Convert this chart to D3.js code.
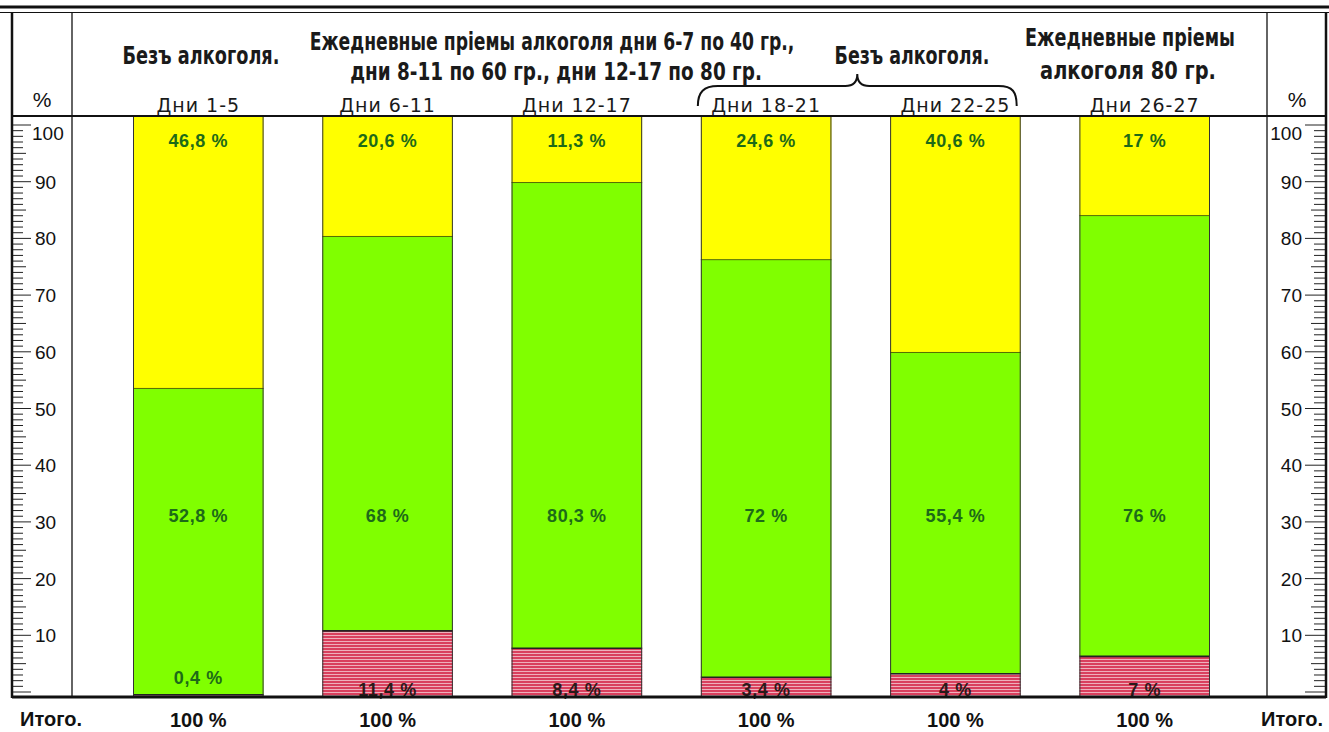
<!DOCTYPE html>
<html><head><meta charset="utf-8">
<script src="https://cdn.jsdelivr.net/npm/d3@7"></script>
<style>body{margin:0;background:#fff}svg{display:block}</style>
</head><body><svg id="c" width="1329" height="732"></svg>
<script>
// ---- data ----
const periods = ["Дни 1-5", "Дни 6-11", "Дни 12-17", "Дни 18-21", "Дни 22-25", "Дни 26-27"];
const redValues = [0.4, 11.4, 8.4, 3.4, 4, 7];
const greenValues = [52.8, 68, 80.3, 72, 55.4, 76];
const yellowValues = [46.8, 20.6, 11.3, 24.6, 40.6, 17];
const totalLabels = ["100 %", "100 %", "100 %", "100 %", "100 %", "100 %"];
const yTickValues = [10, 20, 30, 40, 50, 60, 70, 80, 90, 100];
const headerLines = [
  {text: "Безъ алкоголя.", x: 201, y: 64, w: 157},
  {text: "Ежедневные пріемы алкоголя дни 6-7 по 40 гр.,", x: 552, y: 50, w: 485},
  {text: "дни 8-11 по 60 гр., дни 12-17 по 80 гр.", x: 556, y: 80, w: 412},
  {text: "Безъ алкоголя.", x: 912, y: 64, w: 155},
  {text: "Ежедневные пріемы", x: 1130, y: 46, w: 210},
  {text: "алкоголя 80 гр.", x: 1128, y: 79, w: 176}
];
const sideLabel = "%";
const totalWord = "Итого.";

const svg = d3.select("#c");
const W = 1329, H = 732;
const topY = 117, baseY = 697;

const x = d3.scaleBand().domain(periods).range([133, 1210]).paddingInner(0.31).paddingOuter(0);
const y = d3.scaleLinear().domain([0, 100]).range([baseY, topY]);
const yAxisScale = d3.scaleLinear().domain([0, 100]).range([692, 125]);

// hatch pattern
const defs = svg.append("defs");
const pat = defs.append("pattern").attr("id", "hatch").attr("patternUnits", "userSpaceOnUse")
  .attr("width", 6).attr("height", 3);
pat.append("rect").attr("width", 6).attr("height", 3).attr("fill", "#d9405e");
pat.append("rect").attr("y", 2).attr("width", 6).attr("height", 1).attr("fill", "#eeb0bc");

const stacks = periods.map((p, i) => ({
  p, r: redValues[i], g: greenValues[i], yv: yellowValues[i]
}));

const bars = svg.append("g");
stacks.forEach(d => {
  const x0 = x(d.p), bw = x.bandwidth();
  const r1 = d.r, g1 = d.r + d.g;
  bars.append("rect").attr("x", x0).attr("y", y(100)).attr("width", bw)
    .attr("height", y(g1) - y(100)).attr("fill", "#ffff00");
  bars.append("rect").attr("x", x0).attr("y", y(g1)).attr("width", bw)
    .attr("height", y(r1) - y(g1)).attr("fill", "#80ff00");
  bars.append("rect").attr("x", x0).attr("y", y(r1)).attr("width", bw)
    .attr("height", y(0) - y(r1)).attr("fill", "url(#hatch)");
  bars.append("line").attr("x1", x0).attr("x2", x0 + bw).attr("y1", y(r1)).attr("y2", y(r1))
    .attr("stroke", "#222").attr("stroke-width", 1.6);
  bars.append("line").attr("x1", x0).attr("x2", x0 + bw).attr("y1", y(g1)).attr("y2", y(g1))
    .attr("stroke", "#556b00").attr("stroke-width", 1);
  bars.append("line").attr("x1", x0 + 0.5).attr("x2", x0 + 0.5).attr("y1", y(100)).attr("y2", y(0))
    .attr("stroke", "#333").attr("stroke-width", 1);
  bars.append("line").attr("x1", x0 + bw - 0.5).attr("x2", x0 + bw - 0.5).attr("y1", y(100)).attr("y2", y(0))
    .attr("stroke", "#333").attr("stroke-width", 1);
});

const fmt = v => String(v).replace(".", ",") + " %";
const labelFont = "'Liberation Sans', Arial, sans-serif";

// value labels
const lab = svg.append("g").attr("font-family", labelFont).attr("font-size", 18)
  .attr("font-weight", "bold").attr("letter-spacing", 0.6).attr("text-anchor", "middle");
stacks.forEach(d => {
  const cx = x(d.p) + x.bandwidth() / 2;
  lab.append("text").attr("x", cx).attr("y", y(100) + 30).attr("fill", "#1d6a18").text(fmt(d.yv));
  lab.append("text").attr("x", cx).attr("y", y(31) + 5).attr("fill", "#1d6a18").text(fmt(d.g));
  if (d.r < 2) {
    lab.append("text").attr("x", cx).attr("y", y(d.r) - 11).attr("fill", "#1d6a18").text(fmt(d.r));
  } else {
    lab.append("text").attr("x", cx).attr("y", y(0) - 1).attr("fill", "#2a1a1a").text(fmt(d.r));
  }
});

// frame lines
const frame = svg.append("g").attr("stroke", "#111");
frame.append("line").attr("x1", 0).attr("x2", W).attr("y1", 7).attr("y2", 7).attr("stroke-width", 3);
frame.append("line").attr("x1", 0).attr("x2", W).attr("y1", 12.5).attr("y2", 12.5).attr("stroke-width", 1.2);
frame.append("line").attr("x1", 12).attr("x2", 12).attr("y1", 12).attr("y2", baseY + 1).attr("stroke-width", 2.5);
frame.append("line").attr("x1", 1326).attr("x2", 1326).attr("y1", 12).attr("y2", baseY + 1).attr("stroke-width", 2.5);
frame.append("line").attr("x1", 72).attr("x2", 72).attr("y1", 12).attr("y2", baseY).attr("stroke-width", 1.3);
frame.append("line").attr("x1", 1267).attr("x2", 1267).attr("y1", 12).attr("y2", baseY).attr("stroke-width", 1.3);
frame.append("line").attr("x1", 12).attr("x2", 1326).attr("y1", 116).attr("y2", 116).attr("stroke-width", 2);
frame.append("line").attr("x1", 12).attr("x2", 1326).attr("y1", baseY).attr("y2", baseY).attr("stroke-width", 3);

// axes (ruler style)
const minor = d3.range(0, 101, 1);
const ax = svg.append("g").attr("stroke", "#222").attr("stroke-width", 1);
minor.forEach(v => {
  const yy = yAxisScale(v);
  const len = v % 10 === 0 ? 18 : (v % 5 === 0 ? 13 : 10);
  ax.append("line").attr("x1", 13).attr("x2", 13 + len).attr("y1", yy).attr("y2", yy);
  ax.append("line").attr("x1", 1325).attr("x2", 1325 - (v % 10 === 0 ? 20 : (v % 5 === 0 ? 14 : 11))).attr("y1", yy).attr("y2", yy);
});
const axText = svg.append("g").attr("font-family", labelFont).attr("font-size", 19).attr("fill", "#111");
yTickValues.forEach(v => {
  const yy = yAxisScale(v) + 7 + (v === 100 ? 8 : 0);
  axText.append("text").attr("x", v === 100 ? 32 : 35).attr("y", yy).text(v);
  axText.append("text").attr("x", 1302).attr("y", yy).attr("text-anchor", "end").text(v);
});

// header texts (condensed bold, horizontally scaled to the printed width)
const hd = svg.append("g").attr("font-family", "'DejaVu Sans Condensed', 'DejaVu Sans', sans-serif")
  .attr("font-weight", "bold").attr("font-size", 25).attr("fill", "#1a1a1a").attr("text-anchor", "middle");
headerLines.forEach(h => {
  const t = hd.append("text").attr("x", 0).attr("y", 0).text(h.text);
  const w0 = t.node().getComputedTextLength() || h.w;
  t.attr("transform", `translate(${h.x},${h.y}) scale(${h.w / w0},1)`);
});

// period labels
const pl = svg.append("g").attr("font-family", "'DejaVu Sans', sans-serif").attr("font-size", 19)
  .attr("letter-spacing", 1).attr("fill", "#1a1a1a").attr("text-anchor", "middle");
periods.forEach(p => {
  pl.append("text").attr("x", x(p) + x.bandwidth() / 2).attr("y", 112).text(p);
});

// brace over periods 4-5
const bx0 = x(periods[3]) - 3, bx1 = x(periods[4]) + x.bandwidth() - 4;
const bmid = (bx0 + bx1) / 2;
svg.append("path").attr("fill", "none").attr("stroke", "#111").attr("stroke-width", 2)
  .attr("d", `M${bx0},106 C${bx0},92 ${bx0 + 6},86 ${bx0 + 20},86 L${bmid - 12},86 C${bmid - 4},86 ${bmid},82 ${bmid},74 C${bmid},82 ${bmid + 4},86 ${bmid + 12},86 L${bx1 - 18},86 C${bx1 - 4},86 ${bx1},92 ${bx1},106`);

// side labels
const sl = svg.append("g").attr("font-family", labelFont).attr("font-size", 21).attr("fill", "#111")
  .attr("text-anchor", "middle");
sl.append("text").attr("x", 42).attr("y", 107).text(sideLabel);
sl.append("text").attr("x", 1297).attr("y", 107).text(sideLabel);

// bottom totals
const bt = svg.append("g").attr("font-family", labelFont).attr("font-size", 20).attr("font-weight", "bold")
  .attr("fill", "#111").attr("text-anchor", "middle");
periods.forEach((p, i) => {
  bt.append("text").attr("x", x(p) + x.bandwidth() / 2).attr("y", 727).text(totalLabels[i]);
});
bt.append("text").attr("x", 51).attr("y", 726).text(totalWord);
bt.append("text").attr("x", 1292).attr("y", 726).text(totalWord);
</script></body></html>
